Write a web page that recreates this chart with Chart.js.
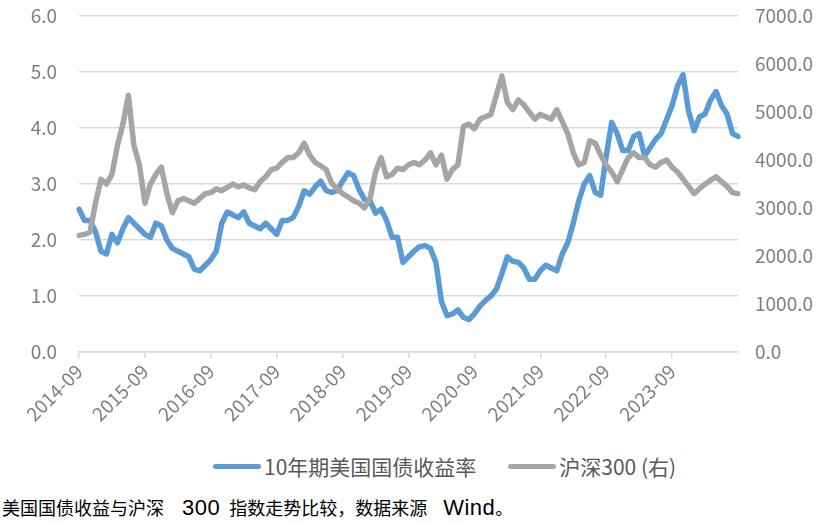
<!DOCTYPE html>
<html>
<head>
    <meta charset="utf-8">
    <title>美国国债收益与沪深300</title>
    <style>
        body { margin: 0; background: #fff; }
        #wrap { position: relative; width: 820px; height: 525px; }
        #box { position: absolute; left: 0; top: 0; width: 820px; height: 440px; }
        #legend { position: absolute; left: 213px; top: 451px; display: flex; align-items: center; font: 21px "Noto Sans CJK SC", sans-serif; color: #595959; white-space: nowrap; }
        #legend .item { display: flex; align-items: center; margin-right: 32px; }
        #legend .swatch { width: 48px; height: 5px; border-radius: 3px; margin-right: 3px; }
        .note { position: absolute; left: 2px; top: 494px; font: 18px "Noto Sans CJK SC", sans-serif; color: #000; white-space: nowrap; }
        .note .lat { font-family: "Liberation Sans", sans-serif; font-size: 22px; letter-spacing: 0.5px; }
    </style>
</head>
<body>
<div id="wrap">
    <div id="box"><canvas id="trendChart"></canvas></div>
    <div id="legend"></div>
    <div class="note">美国国债收益与沪深<span class="lat" style="margin-left:18px;margin-right:9px">300</span>指数走势比较，数据来源<span class="lat" style="margin-left:16px">Wind</span>。</div>
</div>

<script src="https://cdn.jsdelivr.net/npm/chart.js"></script>
<script>
    // monthly points, 2014-09 .. 2024-09
    var months = [];
    for (var i = 0; i <= 120; i++) {
        var y = 2014 + Math.floor((8 + i) / 12);
        var m = (8 + i) % 12 + 1;
        months.push(y + '-' + (m < 10 ? '0' + m : m));
    }

    var seriesNames = ['10年期美国国债收益率', '沪深300 (右)'];
    var seriesColors = ['#5b9bd5', '#a5a5a5'];

    // 10Y UST yield (%), left axis
    var ustYield = [
        2.55, 2.35, 2.35, 2.15, 1.80, 1.75, 2.10, 1.95, 2.20, 2.40,
        2.30, 2.20, 2.10, 2.05, 2.30, 2.25, 2.00, 1.85, 1.80, 1.75,
        1.70, 1.48, 1.45, 1.55, 1.65, 1.80, 2.30, 2.50, 2.45, 2.40,
        2.50, 2.30, 2.25, 2.20, 2.30, 2.20, 2.10, 2.35, 2.35, 2.40,
        2.60, 2.88, 2.82, 2.95, 3.05, 2.88, 2.85, 2.88, 3.05, 3.20,
        3.15, 2.90, 2.72, 2.70, 2.48, 2.55, 2.35, 2.05, 2.05, 1.60,
        1.70, 1.80, 1.88, 1.90, 1.85, 1.60, 0.90, 0.65, 0.68, 0.75,
        0.62, 0.58, 0.68, 0.82, 0.92, 1.00, 1.12, 1.40, 1.70, 1.62,
        1.60, 1.50, 1.30, 1.30, 1.45, 1.55, 1.50, 1.45, 1.75, 1.95,
        2.30, 2.70, 3.00, 3.15, 2.85, 2.80, 3.50, 4.10, 3.90, 3.60,
        3.60, 3.85, 3.90, 3.50, 3.65, 3.80, 3.90, 4.15, 4.40, 4.75,
        4.95, 4.30, 3.95, 4.20, 4.25, 4.50, 4.65, 4.40, 4.25, 3.90,
        3.85
    ];

    // CSI 300 index, right axis
    var hs300 = [
        2430, 2450, 2500, 3100, 3600, 3500, 3700, 4300, 4750, 5350,
        4300, 3900, 3100, 3500, 3700, 3850, 3300, 2900, 3150, 3200,
        3150, 3100, 3200, 3300, 3320, 3400, 3360, 3430, 3500, 3440,
        3480, 3420, 3380, 3550, 3650, 3800, 3830, 3950, 4050, 4050,
        4150, 4350, 4100, 3950, 3880, 3800, 3520, 3400, 3300, 3230,
        3150, 3100, 3000, 3200, 3750, 4050, 3650, 3700, 3830, 3800,
        3900, 3950, 3900, 4000, 4150, 3900, 4100, 3600, 3800, 3900,
        4700, 4750, 4650, 4850, 4900, 4950, 5350, 5750, 5200, 5050,
        5250, 5150, 5000, 4850, 4950, 4900, 4850, 5050, 4800, 4550,
        4150, 3900, 3950, 4400, 4350, 4100, 3900, 3750, 3550, 3800,
        4050, 4150, 4050, 4050, 3900, 3850, 3950, 4000, 3850, 3750,
        3600, 3450, 3300, 3400, 3500, 3580, 3650, 3550, 3450, 3320,
        3300
    ];

    var leftTicks = [0, 1, 2, 3, 4, 5, 6];
    var rightTicks = [0, 1000, 2000, 3000, 4000, 5000, 6000, 7000];

    var tickFont = { family: 'Noto Sans CJK SC', size: 19 };
    var gridColor = '#d9d9d9';

    var ctx = document.getElementById('trendChart').getContext('2d');
    var trendChart = new Chart(ctx, {
        type: 'line',
        data: {
            labels: months,
            datasets: [{
                label: seriesNames[0],
                data: ustYield,
                yAxisID: 'y',
                borderColor: seriesColors[0],
                backgroundColor: seriesColors[0],
                borderWidth: 5.5,
                pointRadius: 0,
                borderJoinStyle: 'round',
                borderCapStyle: 'round',
                order: 1
            }, {
                label: seriesNames[1],
                data: hs300,
                yAxisID: 'y1',
                borderColor: seriesColors[1],
                backgroundColor: seriesColors[1],
                borderWidth: 5.5,
                pointRadius: 0,
                borderJoinStyle: 'round',
                borderCapStyle: 'round',
                order: 0
            }]
        },
        options: {
            responsive: true,
            maintainAspectRatio: false,
            animation: false,
            layout: { padding: { left: 20, right: 0, top: 16, bottom: 0 } },
            plugins: {
                tooltip: { enabled: false },
                legend: { display: false }
            },
            scales: {
                x: {
                    offset: false,
                    afterBuildTicks: function(axis) {
                        axis.ticks = axis.ticks.filter(function(t) {
                            return t.value % 12 === 0 && t.value < 120;
                        });
                    },
                    afterFit: function(axis) {
                        axis.paddingLeft = 0;
                        axis.paddingRight = 0;
                        axis.height = 88;
                    },
                    ticks: {
                        autoSkip: false,
                        minRotation: 45,
                        maxRotation: 45,
                        color: '#7f7f7f',
                        font: tickFont,
                        padding: 2
                    },
                    grid: {
                        drawOnChartArea: false,
                        color: gridColor,
                        lineWidth: 1.5,
                        tickLength: 6
                    },
                    border: { color: gridColor, width: 1.5 }
                },
                y: {
                    position: 'left',
                    min: 0,
                    max: 6,
                    afterBuildTicks: function(axis) {
                        axis.ticks = leftTicks.map(function(v) { return { value: v }; });
                    },
                    afterFit: function(axis) {
                        axis.width = 59;
                        axis.paddingTop = 0;
                        axis.paddingBottom = 0;
                    },
                    ticks: {
                        color: '#7f7f7f',
                        font: tickFont,
                        padding: 22,
                        callback: function(v) { return v.toFixed(1); }
                    },
                    grid: { color: gridColor, lineWidth: 1.5, drawTicks: false },
                    border: { display: false }
                },
                y1: {
                    position: 'right',
                    min: 0,
                    max: 7000,
                    afterBuildTicks: function(axis) {
                        axis.ticks = rightTicks.map(function(v) { return { value: v }; });
                    },
                    afterFit: function(axis) {
                        axis.width = 82;
                        axis.paddingTop = 0;
                        axis.paddingBottom = 0;
                    },
                    ticks: {
                        color: '#7f7f7f',
                        font: tickFont,
                        padding: 17,
                        callback: function(v) { return v.toFixed(1); }
                    },
                    grid: { drawOnChartArea: false, drawTicks: false },
                    border: { display: false }
                }
            }
        }
    });

    // legend built from the chart's datasets
    var legendBox = document.getElementById('legend');
    trendChart.data.datasets.forEach(function(ds) {
        var item = document.createElement('div');
        item.className = 'item';
        var sw = document.createElement('span');
        sw.className = 'swatch';
        sw.style.background = ds.borderColor;
        var txt = document.createElement('span');
        txt.textContent = ds.label;
        item.appendChild(sw);
        item.appendChild(txt);
        legendBox.appendChild(item);
    });
</script>
</body>
</html>
